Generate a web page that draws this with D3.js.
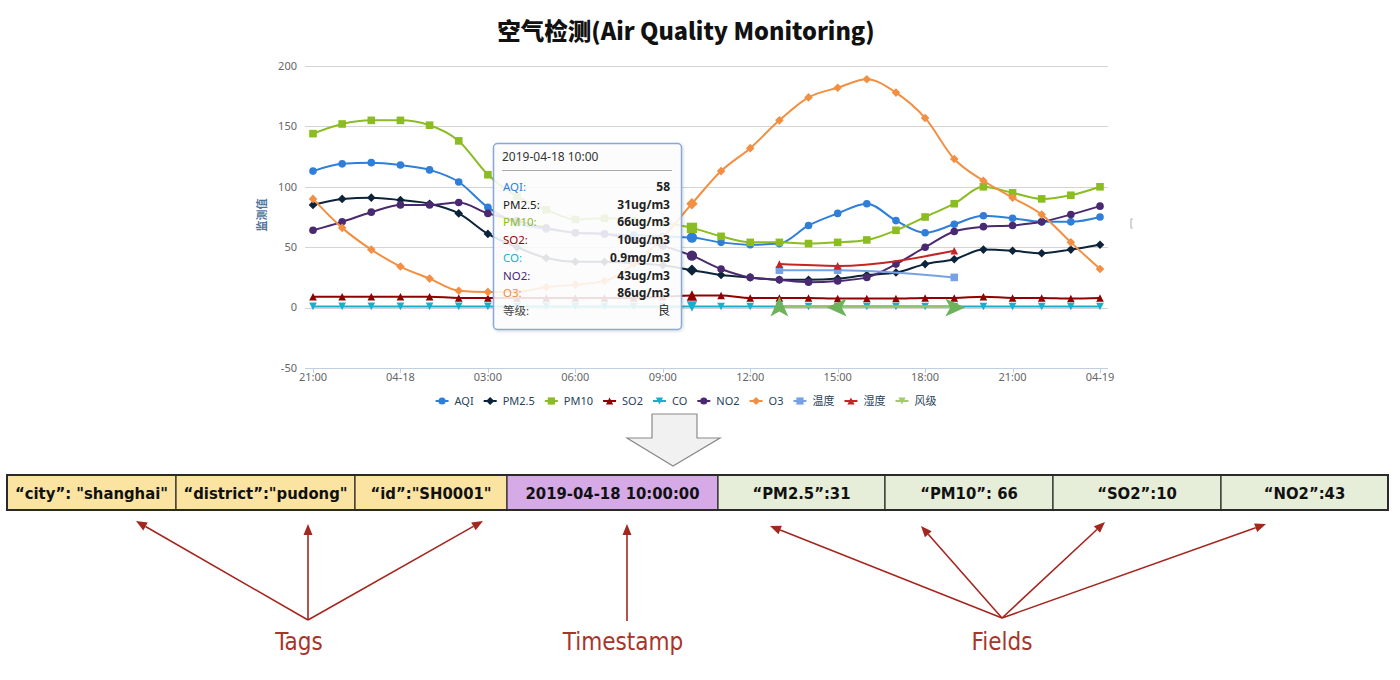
<!DOCTYPE html>
<html><head><meta charset="utf-8">
<script src="https://cdn.jsdelivr.net/npm/d3@7"></script>
<style>body{margin:0;background:#fff}svg{display:block}</style>
</head><body>
<svg id="c" width="1400" height="680"></svg>
<script>
// ---------- data ----------
const hourLabels = ["21:00","22:00","23:00","00:00","01:00","02:00","03:00","04:00","05:00","06:00","07:00","08:00","09:00","10:00",
  "11:00","12:00","13:00","14:00","15:00","16:00","17:00","18:00","19:00","20:00","21:00","22:00","23:00","00:00"];
const tickIndex = [0,3,6,9,12,15,18,21,24,27];
const tickLabels = ["21:00","04-18","03:00","06:00","09:00","12:00","15:00","18:00","21:00","04-19"];
const yTicks = [-50,0,50,100,150,200];

const seriesNames = ["AQI","PM2.5","PM10","SO2","CO","NO2","O3","温度","湿度","风级"];
const seriesColors = ["#2f7ed8","#0d233a","#8bbc21","#910000","#1aadce","#492970","#f28f43","#77a1e5","#c42525","#a6c96a"];
const seriesSymbols = ["circle","diamond","square","triangle","triangle-down","circle","diamond","square","triangle","triangle-down"];

const aqi  = [113,119,120,118,114,104,83, 70,65,62,61,60,59, 58, 54,52,53,68,78,86,72,62,69,76,74,71,71,75];
const pm25 = [85,90,91,89,86,78,61, 50,41,38,38,37,35, 31, 27,25,23,23,24,27,29,36,40,48,47,45,48,52];
const pm10 = [144,152,155,155,151,138,110, 92,81,73,74,72,70, 66, 59,54,54,53,54,56,64,75,86,100,95,90,93,100];
const so2  = [9,9,9,9,9,8,8, 8,8,8,8,8,9, 10, 10,8,8,8,7.5,7.5,7.5,8,8,9,8,8,7.5,8];
const co   = [1.0,1.0,1.0,1.0,1.0,1.0,1.0, 1.0,1.0,0.9,0.9,0.9,0.9, 0.9, 0.9,0.9,0.9,0.9,0.9,0.9,0.9,0.9,0.9,0.9,0.9,0.9,0.9,0.9];
const no2  = [64,71,79,85,85,87,78, 72,66,62,61,56,51, 43, 32,25,23,21,22,25,36,50,63,67,68,71,77,84];
const o3   = [90,66,48,34,24,14,13, 13,17,19,22,36,58, 86, 113,132,155,174,182,189,178,157,123,105,91,77,54,32];

const extraIndex = [16,18,22];
const temperature = [31,31,25];
const humidity = [36,34.5,47];
const windLevel = [1,1,1];
const windDirection = [0,270,90];

const hoverIndex = 13;
const tooltipTitle = "2019-04-18 10:00";
const tooltipUnits = ["","ug/m3","ug/m3","ug/m3","mg/m3","ug/m3","ug/m3"];
const gradeLabel = "等级";
const gradeValue = "良";

const boxTexts = ["“city”: \"shanghai\"","“district”:\"pudong\"","“id”:\"SH0001\"","2019-04-18 10:00:00","“PM2.5”:31","“PM10”: 66","“SO2”:10","“NO2”:43"];
const boxKinds = ["tag","tag","tag","time","field","field","field","field"];
const groupLabels = ["Tags","Timestamp","Fields"];

// ---------- drawing ----------
const svg = d3.select("#c");
const FONT = "'Noto Sans','Noto Sans CJK SC',sans-serif";
const x = d3.scaleLinear().domain([0,27]).range([313,1100]);
const y = d3.scaleLinear().domain([-50,200]).range([368,66]);
const plotL = 305, plotR = 1108;

// title
svg.append("text").attr("x",686).attr("y",40).attr("text-anchor","middle")
  .attr("font-family","'Noto Sans CJK SC','Noto Sans',sans-serif").attr("font-weight","900")
  .attr("font-size",23.5).attr("fill","#111").text("空气检测(Air Quality Monitoring)");

// grid
svg.append("g").selectAll("line").data(yTicks).join("line")
  .attr("x1",plotL).attr("x2",plotR).attr("y1",d=>Math.round(y(d))+0.5).attr("y2",d=>Math.round(y(d))+0.5)
  .attr("stroke","#d4d4d4").attr("stroke-width",1);
svg.append("g").selectAll("text").data(yTicks).join("text")
  .attr("x",297).attr("y",d=>y(d)).attr("dy","0.35em").attr("text-anchor","end")
  .attr("font-family",FONT).attr("font-size",11).attr("fill","#666").text(d=>d);
// x axis line + ticks
svg.append("line").attr("x1",plotL).attr("x2",plotR).attr("y1",368.5).attr("y2",368.5).attr("stroke","#c0d0e0");
svg.append("g").selectAll("line").data(tickIndex).join("line")
  .attr("x1",d=>Math.round(x(d))+0.5).attr("x2",d=>Math.round(x(d))+0.5).attr("y1",368).attr("y2",373).attr("stroke","#c0d0e0");
svg.append("g").selectAll("text").data(tickIndex).join("text")
  .attr("x",d=>x(d)).attr("y",381).attr("text-anchor","middle")
  .attr("font-family",FONT).attr("font-size",11).attr("fill","#666").text((d,i)=>tickLabels[i]);
// y title
svg.append("text").attr("transform","translate(266,215) rotate(-90)").attr("text-anchor","middle")
  .attr("font-family","'Noto Sans CJK SC',sans-serif").attr("font-size",11).attr("font-weight","bold")
  .attr("fill","#4d759e").text("监测值");
// small artifact at right
svg.append("path").attr("d","M1133,219 L1131,219 L1131,228 L1133,228").attr("fill","none").attr("stroke","#bbb").attr("stroke-width",1.2);

function symbolPath(type, r){
  switch(type){
    case "circle": return `M${-r},0A${r},${r} 0 1,0 ${r},0A${r},${r} 0 1,0 ${-r},0Z`;
    case "square": return `M${-r},${-r}H${r}V${r}H${-r}Z`;
    case "diamond": return `M0,${-r-0.5}L${r+0.5},0L0,${r+0.5}L${-r-0.5},0Z`;
    case "triangle": return `M0,${-r}L${r},${r}L${-r},${r}Z`;
    case "triangle-down": return `M${-r},${-r}L${r},${-r}L0,${r}Z`;
  }
}

const mainValues = [aqi,pm25,pm10,so2,co,no2,o3];
const line = d3.line().x(d=>x(d[0])).y(d=>y(d[1])).curve(d3.curveMonotoneX);
const chart = svg.append("g");
mainValues.forEach((vals,si)=>{
  const pts = vals.map((v,i)=>[i,v]);
  const g = chart.append("g");
  g.append("path").attr("d",line(pts)).attr("fill","none").attr("stroke",seriesColors[si]).attr("stroke-width",2);
  g.selectAll("path.m").data(pts).join("path").attr("class","m")
    .attr("transform",d=>`translate(${x(d[0])},${y(d[1])})`)
    .attr("d",d=>symbolPath(seriesSymbols[si], d[0]===hoverIndex ? 5.2 : 3.8))
    .attr("fill",seriesColors[si]);
});
// extra series (温度, 湿度)
[[temperature,7],[humidity,8]].forEach(([vals,si])=>{
  const pts = vals.map((v,i)=>[extraIndex[i],v]);
  const g = chart.append("g");
  g.append("path").attr("d",line(pts)).attr("fill","none").attr("stroke",seriesColors[si]).attr("stroke-width",2);
  g.selectAll("path.m").data(pts).join("path").attr("class","m")
    .attr("transform",d=>`translate(${x(d[0])},${y(d[1])})`)
    .attr("d",symbolPath(seriesSymbols[si],3.8)).attr("fill",seriesColors[si]);
});
// 风级 with direction arrows
{
  const pts = windLevel.map((v,i)=>[extraIndex[i],v]);
  chart.append("path").attr("d",line(pts)).attr("fill","none").attr("stroke","#8fc46a").attr("stroke-width",2.5);
  chart.selectAll("path.w").data(pts).join("path").attr("class","w")
    .attr("transform",(d,i)=>`translate(${x(d[0])},${y(d[1])+1}) rotate(${windDirection[i]})`)
    .attr("d","M0,-11 L9,9 L0,4 L-9,9 Z").attr("fill","#6cb35c");
}

// tooltip
const tt = svg.append("g");
const defs = svg.append("defs");
const f = defs.append("filter").attr("id","sh").attr("x","-10%").attr("y","-10%").attr("width","130%").attr("height","130%");
f.append("feDropShadow").attr("dx",1).attr("dy",1).attr("stdDeviation",1.5).attr("flood-color","#000").attr("flood-opacity",0.18);
tt.append("rect").attr("x",493.5).attr("y",143.5).attr("width",188).attr("height",186).attr("rx",4)
  .attr("fill","rgba(255,255,255,0.86)").attr("stroke","#86a9d6").attr("stroke-width",1.5).attr("filter","url(#sh)");
tt.append("text").attr("x",502).attr("y",161).attr("font-family",FONT).attr("font-size",12).attr("fill","#333").text(tooltipTitle);
tt.append("line").attr("x1",502).attr("x2",672).attr("y1",170.5).attr("y2",170.5).attr("stroke","#aaa");
const rows = mainValues.map((vals,si)=>({label:seriesNames[si]+":", color:seriesColors[si], value: vals[hoverIndex]+tooltipUnits[si]}));
rows.push({label:gradeLabel+":", color:"#444", value:gradeValue});
rows.forEach((r,i)=>{
  const yy = 191 + i*17.7;
  tt.append("text").attr("x",503).attr("y",yy).attr("font-family",FONT).attr("font-size",11.5).attr("fill",r.color==="#0d233a"?"#1a1a1a":r.color).text(r.label);
  tt.append("text").attr("x",670).attr("y",yy).attr("text-anchor","end").attr("font-family",FONT).attr("font-size",12)
    .attr("font-weight",r.value===gradeValue?"normal":"bold").attr("fill","#222").text(r.value);
});

// legend
const leg = svg.append("g");
let lx = 0;
seriesNames.forEach((n,si)=>{
  const g = leg.append("g").attr("transform",`translate(${lx},0)`);
  g.append("line").attr("x1",0).attr("x2",13).attr("y1",0).attr("y2",0).attr("stroke",seriesColors[si]).attr("stroke-width",2);
  g.append("path").attr("transform","translate(6.5,0)").attr("d",symbolPath(seriesSymbols[si],3.6)).attr("fill",seriesColors[si]);
  const t = g.append("text").attr("x",19).attr("y",0).attr("dy","0.35em").attr("font-family",FONT).attr("font-size",11).attr("fill","#2a3f5a").text(n);
  lx += 19 + t.node().getComputedTextLength() + 10;
});
leg.attr("transform",`translate(${686 - (lx-10)/2},401)`);

// gray down arrow
svg.append("path").attr("d","M652,414 H697 V438 H720 L673,466 L627,438 H652 Z")
  .attr("fill","#f1f1f1").attr("stroke","#8a8a8a").attr("stroke-width",1.2);

// bottom record boxes
const boxEdges = d3.scaleOrdinal().domain(d3.range(9)).range([7,176,355,507,718,885,1053,1221,1388]);
const kindFill = {tag:"#fbe3a2", time:"#d6a9e7", field:"#e6edd8"};
const bx = svg.append("g");
boxTexts.forEach((t,i)=>{
  const x0 = boxEdges(i), x1 = boxEdges(i+1);
  bx.append("rect").attr("x",x0).attr("y",475).attr("width",x1-x0).attr("height",35)
    .attr("fill",kindFill[boxKinds[i]]).attr("stroke","#2a2a2a").attr("stroke-width",1.2);
  bx.append("text").attr("x",(x0+x1)/2).attr("y",499).attr("text-anchor","middle")
    .attr("font-family","'DejaVu Sans Condensed','Liberation Sans Narrow',sans-serif").attr("font-weight","bold")
    .attr("font-size",16.5).attr("fill","#111").text(t);
});
bx.append("rect").attr("x",7).attr("y",475).attr("width",1381).attr("height",35).attr("fill","none").attr("stroke","#2a2a2a").attr("stroke-width",2);

// red annotation arrows
const RED = "#a3271f";
const arrows = [
  {from:[308,620], to:[[136,521],[308,524],[483,521]], label:groupLabels[0], lx:299},
  {from:[627,621], to:[[627,524]], label:groupLabels[1], lx:623},
  {from:[1002,618], to:[[770,526],[921,526],[1105,522],[1266,524]], label:groupLabels[2], lx:1002}
];
const ag = svg.append("g");
arrows.forEach(a=>{
  a.to.forEach(t=>{
    const dx=t[0]-a.from[0], dy=t[1]-a.from[1], L=Math.hypot(dx,dy), ux=dx/L, uy=dy/L;
    const hl=11, hw=4.5;
    const bxp=t[0]-ux*hl, byp=t[1]-uy*hl;
    ag.append("line").attr("x1",a.from[0]).attr("y1",a.from[1]).attr("x2",bxp).attr("y2",byp).attr("stroke",RED).attr("stroke-width",1.6);
    ag.append("path").attr("d",`M${t[0]},${t[1]}L${bxp-uy*hw},${byp+ux*hw}L${bxp+uy*hw},${byp-ux*hw}Z`).attr("fill",RED);
  });
  ag.append("text").attr("x",a.lx).attr("y",650).attr("text-anchor","middle")
    .attr("font-family","'DejaVu Sans Condensed','Liberation Sans Narrow',sans-serif").attr("font-size",24)
    .attr("fill","#a8352b").text(a.label);
});
</script>
</body></html>
